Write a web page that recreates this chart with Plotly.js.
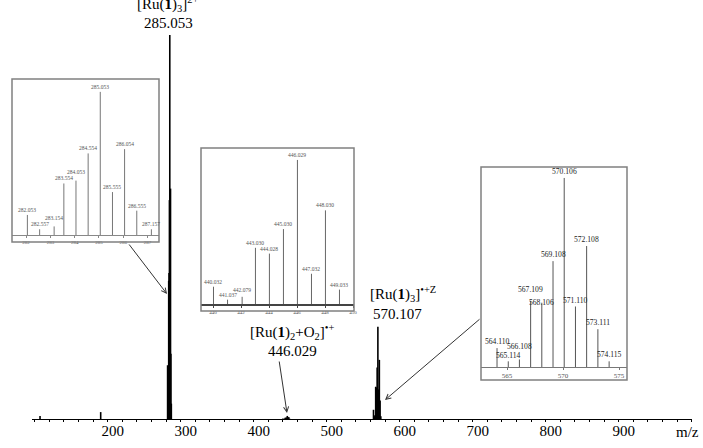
<!DOCTYPE html>
<html>
<head>
<meta charset="utf-8">
<script src="https://cdn.plot.ly/plotly-3.0.1.min.js"></script>
<style>html,body{margin:0;padding:0;background:#fff;}#chart{width:703px;height:448px;}</style>
</head>
<body>
<div id="chart"></div>
<script>
// ---- Data ----
// Main spectrum (m/z, relative intensity %)
const mainMz = [107.3, 190.4,
  282.053, 282.557, 283.154, 283.554, 284.053, 284.554, 285.053, 285.555, 286.054, 286.555, 287.157,
  440.032, 441.037, 442.079, 443.030, 444.028, 445.030, 446.029, 447.032, 448.030, 449.033,
  564.110, 565.114, 566.108, 567.109, 568.106, 569.108, 570.106, 571.110, 572.108, 573.111, 574.115];
const mainInt = [0.8, 1.8,
  14, 4, 6, 36, 38, 57, 100, 30, 60, 17, 4,
  0.1, 0.03, 0.05, 0.3, 0.3, 0.4, 0.8, 0.2, 0.5, 0.1,
  2.4, 0.7, 1.0, 8.4, 8.2, 13.4, 24, 7.7, 15.4, 4.8, 0.7];

// Inset 1: [Ru(1)3]2+ cluster
const inset1Mz = [282.053, 282.557, 283.154, 283.554, 284.053, 284.554, 285.053, 285.555, 286.054, 286.555, 287.157];
const inset1Int = [14, 4, 6, 36, 38, 57, 100, 30, 60, 17, 4];
const inset1Labels = ["282.053","282.557","283.154","283.554","284.053","284.554","285.053","285.555","286.054","286.555","287.157"];
const inset1Ticks = [282, 283, 284, 285, 286, 287];

// Inset 2: [Ru(1)2+O2]+ cluster
const inset2Mz = [440.032, 441.037, 442.079, 443.030, 444.028, 445.030, 446.029, 447.032, 448.030, 449.033];
const inset2Int = [12, 3, 5, 39, 35, 52, 100, 21, 65, 10];
const inset2Labels = ["440.032","441.037","442.079","443.030","444.028","445.030","446.029","447.032","448.030","449.033"];
const inset2Ticks = [440, 442, 444, 446, 448, 450];

// Inset 3: [Ru(1)3]+Z cluster
const inset3Mz = [564.110, 565.114, 566.108, 567.109, 568.106, 569.108, 570.106, 571.110, 572.108, 573.111, 574.115];
const inset3Int = [10, 3, 4, 35, 34, 56, 100, 32, 64, 20, 3];
const inset3Labels = ["564.110","565.114","566.108","567.109","568.106","569.108","570.106","571.110","572.108","573.111","574.115"];
const inset3Ticks = [565, 570, 575];

const mainTicks = [200, 300, 400, 500, 600, 700, 800, 900];

// ---- Label placement tweaks (pixels, layout only) ----
const inset1Shift = [0, 0, 3, 0, 4, 0, 0, 0, 0, 0, 0];
const inset2Shift = [0, 0, 2, 0, 0, 0, 0, 0, 0, 0];
const inset3Shift = [0, -1, 6, 5, -6, 0, 0, 0, 0, 0, 0];

// ---- Helpers ----
const W = 703, H = 448;
const M = {l: 10, r: 5, t: 0, b: 29};
const PW = W - M.l - M.r, PH = H - M.t - M.b;
const px = v => (v - M.l) / PW;
const py = v => (PH + M.t - v) / PH;

function sticks(xs, ys) {
  const X = [], Y = [];
  xs.forEach((x, i) => { X.push(x, x, null); Y.push(0, ys[i], null); });
  return {X, Y};
}

const serif = 'Liberation Serif, Times New Roman, serif';

const m = sticks(mainMz, mainInt);
const s1 = sticks(inset1Mz, inset1Int);
const s2 = sticks(inset2Mz, inset2Int);
const s3 = sticks(inset3Mz, inset3Int);

const traces = [
  {x: m.X, y: m.Y, type: 'scatter', mode: 'lines', line: {color: '#000', width: 1.6}, xaxis: 'x', yaxis: 'y', hoverinfo: 'skip'},
  {x: s1.X, y: s1.Y, type: 'scatter', mode: 'lines', line: {color: '#777', width: 1}, xaxis: 'x2', yaxis: 'y2', hoverinfo: 'skip'},
  {x: s2.X, y: s2.Y, type: 'scatter', mode: 'lines', line: {color: '#666', width: 1}, xaxis: 'x3', yaxis: 'y3', hoverinfo: 'skip'},
  {x: s3.X, y: s3.Y, type: 'scatter', mode: 'lines', line: {color: '#555', width: 1}, xaxis: 'x4', yaxis: 'y4', hoverinfo: 'skip'}
];

const annotations = [];
function peakLabels(xs, ys, labels, shifts, xr, yr, size, color) {
  xs.forEach((x, i) => annotations.push({
    x: x, y: ys[i], xref: xr, yref: yr, text: labels[i], showarrow: false,
    yanchor: 'bottom', yshift: shifts[i], font: {family: serif, size: size, color: color}
  }));
}
peakLabels(inset1Mz, inset1Int, inset1Labels, inset1Shift, 'x2', 'y2', 5.5, '#555');
peakLabels(inset2Mz, inset2Int, inset2Labels, inset2Shift, 'x3', 'y3', 5.5, '#555');
peakLabels(inset3Mz, inset3Int, inset3Labels, inset3Shift, 'x4', 'y4', 7.6, '#222');

function txt(text, cx, cy, size) {
  annotations.push({x: px(cx), y: py(cy), xref: 'paper', yref: 'paper', text: text, showarrow: false,
    xanchor: 'center', yanchor: 'middle', font: {family: serif, size: size || 15, color: '#000'}});
}
txt('[Ru(<b>1</b>)<sub>3</sub>]<sup>2+</sup>', 168, 4);
txt('285.053', 168, 23);
txt('[Ru(<b>1</b>)<sub>2</sub>+O<sub>2</sub>]<sup>•+</sup>', 292, 332);
txt('446.029', 292, 351);
txt('[Ru(<b>1</b>)<sub>3</sub>]<sup>•+Z</sup>', 403, 294);
txt('570.107', 397, 314);
txt('m/z', 687, 432);

function arrow(x0, y0, x1, y1) {
  annotations.push({x: px(x1), y: py(y1), xref: 'paper', yref: 'paper',
    ax: px(x0), ay: py(y0), axref: 'paper', ayref: 'paper', text: '', showarrow: true,
    arrowhead: 5, arrowsize: 1, arrowwidth: 1, arrowcolor: '#333', standoff: 0, startstandoff: 0});
}
arrow(128, 243, 167, 294);
arrow(279, 360, 287, 413);
arrow(481, 318, 385, 400);

function box(x0, y0, x1, y1) {
  return {type: 'rect', xref: 'paper', yref: 'paper', x0: px(x0), x1: px(x1), y0: py(y1), y1: py(y0),
    line: {color: '#808080', width: 1.5}, fillcolor: 'rgba(0,0,0,0)'};
}

function insetX(domain, range, ticks, size, lineColor, lineWidth) {
  return {domain: domain, range: range, showgrid: false, zeroline: false, showline: true,
    linecolor: lineColor, linewidth: lineWidth, ticks: 'outside', ticklen: 2, tickcolor: lineColor, tickwidth: 1,
    tickmode: 'array', tickvals: ticks, ticktext: ticks.map(String),
    tickfont: {family: serif, size: size, color: '#555'}, fixedrange: true};
}
function insetY(domain, range, anchorX) {
  return {domain: domain, range: range, visible: false, fixedrange: true, anchor: anchorX};
}

const layout = {
  width: W, height: H, margin: M, paper_bgcolor: '#fff', plot_bgcolor: 'rgba(0,0,0,0)',
  showlegend: false,
  xaxis: {domain: [px(32), px(692)], range: [96.3, 1000.4], showgrid: false, zeroline: false,
    showline: true, linecolor: '#000', linewidth: 1, ticks: 'outside', ticklen: 2, tickcolor: '#000',
    tickmode: 'array', tickvals: mainTicks, ticktext: mainTicks.map(String),
    ticklabelshift: 5, ticklabelstandoff: -4,
    minor: {dtick: 20, ticks: 'outside', ticklen: 2, tickcolor: '#000', showgrid: false},
    tickfont: {family: serif, size: 15, color: '#000'}, anchor: 'y', fixedrange: true},
  yaxis: {domain: [0, py(35)], range: [0, 100], visible: false, fixedrange: true, anchor: 'x'},
  xaxis2: Object.assign(insetX([px(12), px(159)], [281.42, 287.47], inset1Ticks, 5, '#888', 1), {anchor: 'y2'}),
  yaxis2: insetY([py(235), py(79)], [0, 109], 'x2'),
  xaxis3: Object.assign(insetX([px(201), px(354)], [439.14, 450.07], inset2Ticks, 5, '#444', 2), {anchor: 'y3'}),
  yaxis3: insetY([py(304), py(148)], [0, 108.3], 'x3'),
  xaxis4: Object.assign(insetX([px(481), px(627)], [562.68, 575.71], inset3Ticks, 7, '#777', 1), {anchor: 'y4'}),
  yaxis4: insetY([py(367), py(167)], [0, 105.8], 'x4'),
  shapes: [box(12, 79, 159, 242), box(201, 148, 354, 311), box(481, 167, 627, 380)],
  annotations: annotations
};

Plotly.newPlot('chart', traces, layout, {staticPlot: true, displayModeBar: false});
</script>
</body>
</html>
